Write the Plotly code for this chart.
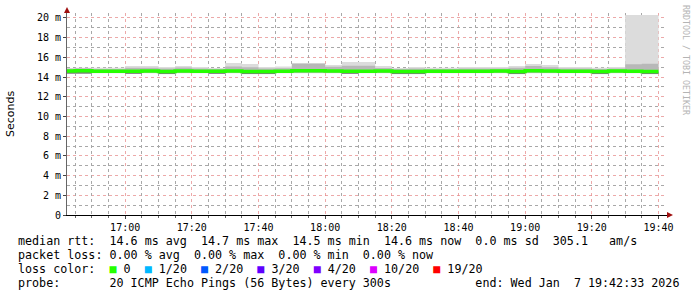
import plotly.graph_objects as go
import pandas as pd

# ---------------- data (5-minute steps, values in ms) ----------------
step_start = pd.date_range("2026-01-07 16:40", periods=36, freq="5min")

median_ms = [14.62, 14.65, 14.60, 14.60, 14.60, 14.62, 14.57, 14.62, 14.60, 14.58,
             14.62, 14.57, 14.57, 14.60, 14.65, 14.65, 14.62, 14.58, 14.60, 14.62,
             14.57, 14.57, 14.58, 14.60, 14.60, 14.60, 14.62, 14.57, 14.65, 14.62,
             14.60, 14.60, 14.57, 14.62, 14.60, 14.57]

outer_hi = [14.92, 14.95, 14.95, 14.95, 15.13, 15.13, 15.03, 15.13, 15.03, 14.92,
            15.43, 15.33, 15.03, 15.08, 15.43, 15.43, 15.23, 15.53, 15.53, 15.13,
            14.92, 15.03, 14.95, 14.95, 15.03, 15.03, 15.03, 15.13, 15.33, 15.23,
            15.03, 15.03, 14.95, 15.03, 20.30, 20.30]

mid_hi = [14.85, 14.90, 14.82, 14.82, 14.95, 14.95, 14.88, 14.97, 14.88, 14.82,
          15.08, 15.00, 14.88, 14.90, 15.35, 15.35, 15.05, 15.15, 15.15, 14.92,
          14.82, 14.88, 14.82, 14.82, 14.88, 14.88, 14.88, 14.95, 15.12, 15.00,
          14.88, 14.88, 14.82, 14.88, 15.30, 15.35]

outer_lo = [14.30, 14.32, 14.38, 14.38, 14.30, 14.38, 14.29, 14.38, 14.38, 14.30,
            14.38, 14.29, 14.29, 14.38, 14.38, 14.38, 14.38, 14.30, 14.38, 14.38,
            14.29, 14.29, 14.38, 14.38, 14.38, 14.38, 14.38, 14.29, 14.38, 14.38,
            14.38, 14.38, 14.29, 14.38, 14.38, 14.29]

mid_lo = [14.32, 14.34, 14.42, 14.42, 14.32, 14.42, 14.31, 14.42, 14.42, 14.32,
          14.42, 14.31, 14.31, 14.42, 14.42, 14.42, 14.42, 14.32, 14.42, 14.42,
          14.31, 14.31, 14.42, 14.42, 14.42, 14.42, 14.42, 14.31, 14.42, 14.42,
          14.42, 14.42, 14.31, 14.42, 14.42, 14.31]

inner_lo = [14.35, 14.37, 14.60, 14.60, 14.34, 14.62, 14.32, 14.62, 14.60, 14.33,
            14.62, 14.32, 14.32, 14.60, 14.65, 14.65, 14.62, 14.33, 14.60, 14.62,
            14.32, 14.32, 14.58, 14.60, 14.60, 14.60, 14.62, 14.32, 14.65, 14.62,
            14.60, 14.60, 14.32, 14.62, 14.60, 14.32]

y_tick_vals = [0, 2, 4, 6, 8, 10, 12, 14, 16, 18, 20]
y_tick_text = ["0", "2 m", "4 m", "6 m", "8 m", "10 m", "12 m", "14 m", "16 m", "18 m", "20 m"]
y_minor_vals = [1, 3, 5, 7, 9, 11, 13, 15, 17, 19]

loss_labels = ["0", "1/20", "2/20", "3/20", "4/20", "10/20", "19/20"]
loss_colors = ["#26ff00", "#00b8ff", "#0059ff", "#5e00ff", "#7e00ff", "#dd00ff", "#ff0000"]

stat_line1 = "median rtt:  14.6 ms avg  14.7 ms max  14.5 ms min  14.6 ms now  0.0 ms sd  305.1   am/s"
stat_line2 = "packet loss: 0.00 % avg  0.00 % max  0.00 % min  0.00 % now"
stat_line4 = "probe:       20 ICMP Echo Pings (56 Bytes) every 300s            end: Wed Jan  7 19:42:33 2026"

x_start = "2026-01-07 16:42:33"
x_end = "2026-01-07 19:42:33"

# ---------------- build ----------------
xs = list(step_start) + [step_start[-1] + pd.Timedelta(minutes=5)]
x_minor_vals = [t for t in pd.date_range("2026-01-07 16:45", "2026-01-07 19:40", freq="5min")
                if t.minute % 20 != 0]


def ext(v):
    return list(v) + [v[-1]]


fig = go.Figure()

# helper trace that carries the minor-grid overlay axes
fig.add_trace(go.Scatter(x=[x_start], y=[0], xaxis="x2", yaxis="y2", mode="markers",
                         marker=dict(opacity=0), hoverinfo="skip", showlegend=False))


def band(lo, hi, color):
    fig.add_trace(go.Scatter(x=xs, y=ext(lo), mode="lines", line=dict(width=0, shape="hv"),
                             hoverinfo="skip", showlegend=False))
    fig.add_trace(go.Scatter(x=xs, y=ext(hi), mode="lines", line=dict(width=0, shape="hv"),
                             fill="tonexty", fillcolor=color, hoverinfo="skip", showlegend=False))


band(outer_lo, outer_hi, "#dcdcdc")
band(mid_lo, mid_hi, "#b8b8b8")
band(inner_lo, median_ms, "#7a7a7a")

fig.add_trace(go.Scatter(x=xs, y=ext(median_ms), mode="lines",
                         line=dict(width=3.5, color="#26ff00", shape="hv"),
                         showlegend=False))

mono = "DejaVu Sans Mono"
major_grid = "rgba(230,140,140,0.75)"
minor_grid = "#a8a8a8"

fig.update_layout(
    width=697, height=297,
    margin=dict(l=67, r=30, t=13, b=82),
    paper_bgcolor="white", plot_bgcolor="white",
    showlegend=False,
    xaxis=dict(
        type="date", range=[x_start, x_end],
        tickmode="linear", tickformat="%H:%M", dtick=1200000, tick0="2026-01-07 17:00",
        showgrid=True, gridcolor=major_grid, griddash="dot", gridwidth=1,
        ticks="outside", ticklen=3, tickcolor="#444",
        showline=True, linecolor="black", linewidth=1,
        tickfont=dict(family=mono, size=10, color="black"),
        zeroline=False, fixedrange=True,
    ),
    yaxis=dict(
        range=[0, 20.5],
        tickmode="array", tickvals=y_tick_vals, ticktext=y_tick_text,
        showgrid=True, gridcolor=major_grid, griddash="dot", gridwidth=1,
        ticks="outside", ticklen=3, tickcolor="#444",
        showline=True, linecolor="#666666", linewidth=1,
        tickfont=dict(family=mono, size=10, color="black"),
        zeroline=False, fixedrange=True,
    ),
    xaxis2=dict(
        type="date", range=[x_start, x_end], overlaying="x", anchor="y",
        tickmode="array", tickvals=x_minor_vals, showticklabels=False,
        ticks="outside", ticklen=2, tickcolor="#666",
        showgrid=True, gridcolor=minor_grid, griddash="dot", gridwidth=1,
        showline=False, zeroline=False, fixedrange=True,
    ),
    yaxis2=dict(
        range=[0, 20.5], overlaying="y", anchor="x",
        tickmode="array", tickvals=y_minor_vals, showticklabels=False, ticks="",
        showgrid=True, gridcolor=minor_grid, griddash="dot", gridwidth=1,
        showline=False, zeroline=False, fixedrange=True,
    ),
)


def px_x(px):
    return (px - 67) / 600.0


def px_y(py):
    return (215 - py) / 202.0


NB = "\u00a0"


def nb(s):
    return s.replace(" ", NB)


line3 = "loss" + NB + "color:" + NB * 2
parts = []
for lab, col in zip(loss_labels, loss_colors):
    parts.append('<span style="color:%s">\u25a0</span>' % col + NB + lab)
line3 += (NB * 2).join(parts)

legend_font = dict(family=mono, size=11.7, color="black")
for txt, py in [(nb(stat_line1), 241), (nb(stat_line2), 255), (line3, 269), (nb(stat_line4), 283)]:
    fig.add_annotation(text=txt, xref="paper", yref="paper", x=px_x(16), y=px_y(py),
                       xanchor="left", yanchor="middle", showarrow=False, font=legend_font)

fig.add_annotation(text="Seconds", xref="paper", yref="paper", x=px_x(10), y=px_y(114),
                   xanchor="center", yanchor="middle", textangle=-90, showarrow=False,
                   font=dict(family="DejaVu Sans", size=11, color="black"))

fig.add_annotation(text=nb("RRDTOOL / TOBI OETIKER"), xref="paper", yref="paper",
                   x=px_x(686), y=px_y(60), xanchor="center", yanchor="middle",
                   textangle=90, showarrow=False,
                   font=dict(family=mono, size=8.3, color="#b4b4b4"))

# axis arrowheads
fig.add_shape(type="path", xref="paper", yref="paper",
              path="M %f %f L %f %f L %f %f Z" % (px_x(64), px_y(13), px_x(70), px_y(13), px_x(67), px_y(7)),
              fillcolor="#a01010", line=dict(width=0))
fig.add_shape(type="path", xref="paper", yref="paper",
              path="M %f %f L %f %f L %f %f Z" % (px_x(667), px_y(212), px_x(667), px_y(218), px_x(673), px_y(215)),
              fillcolor="#a01010", line=dict(width=0))

fig.write_html("out.html")
